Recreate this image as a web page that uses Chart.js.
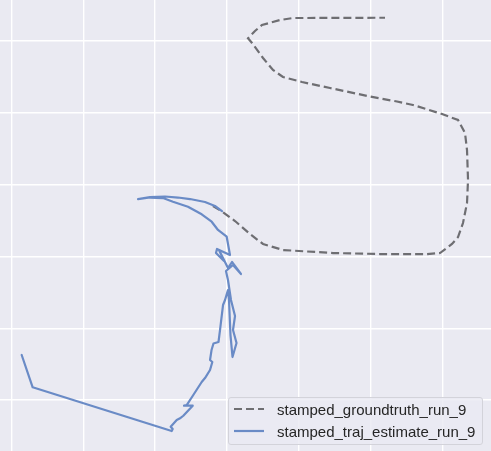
<!DOCTYPE html>
<html><head><meta charset="utf-8">
<script src="https://cdn.jsdelivr.net/npm/chart.js@4.4.1/dist/chart.umd.min.js"></script>
<style>
html,body{margin:0;padding:0;background:#EAEAF2;overflow:hidden}
#wrap{position:relative;width:491px;height:451px}
canvas{display:block}
#legend{position:absolute;left:228px;top:397px;width:253px;height:46px;border:1px solid #d3d3da;border-radius:3px;background:rgba(234,234,242,0.8);font-family:"Liberation Sans",Arial,sans-serif;font-size:15px;color:#262626}
.item{position:absolute;left:0;height:20px;display:flex;align-items:center;white-space:nowrap}
.item svg{margin-left:5px;margin-right:13px}
</style></head>
<body><div id="wrap"><canvas id="c" width="491" height="451"></canvas><div id="legend"></div></div>
<script>
const gtLabel = 'stamped_groundtruth_run_9';
const estLabel = 'stamped_traj_estimate_run_9';

const gtX = [2.806,2.932,3.113,3.322,3.503,3.781,4.478,5.132,5.787,5.968,6.135,6.219,6.288,6.344,6.358,6.344,6.316,6.219,5.996,5.592,5.369,4.993,4.436,4.046,3.781,3.642,3.503,3.350,3.294,3.391,3.489,3.740,3.921,5.202];
const gtY = [2.702,2.625,2.493,2.312,2.173,2.089,2.047,2.033,2.033,2.047,2.173,2.270,2.465,2.744,3.064,3.482,3.719,3.900,3.983,4.109,4.157,4.227,4.345,4.429,4.499,4.596,4.763,4.972,5.038,5.139,5.223,5.292,5.320,5.324];

const estX = [2.932,2.834,2.695,2.486,2.319,2.138,1.929,1.762,1.929,2.110,2.249,2.458,2.649,2.788,2.876,2.997,3.043,2.862,2.848,2.960,2.890,3.015,3.071,3.196,3.085,2.987,3.015,3.057,3.113,3.085,3.134,3.078,3.050,3.029,3.015,2.974,2.946,2.904,2.883,2.813,2.786,2.765,2.797,2.765,2.695,2.649,2.532,2.440,2.403,2.524,2.393,2.347,2.301,2.217,2.245,2.231,0.295,0.142];
const estY = [2.632,2.702,2.758,2.799,2.820,2.834,2.827,2.799,2.820,2.813,2.762,2.692,2.586,2.483,2.368,2.274,2.019,2.103,2.047,1.936,2.089,1.838,1.922,1.755,1.880,1.797,1.671,1.393,1.170,0.975,0.794,0.599,0.905,1.393,1.532,1.393,1.323,0.975,0.808,0.787,0.696,0.557,0.529,0.418,0.306,0.251,0.070,-0.070,-0.079,-0.079,-0.219,-0.255,-0.279,-0.372,-0.404,-0.432,0.177,0.627];

const xTicks = [0,1,2,3,4,5,6];
const yTicks = [0,1,2,3,4,5];
const xLimits = [-0.160, 6.678];
const yLimits = [-0.710, 5.571];

const toPts = (xs, ys) => xs.map((x, i) => ({x: x, y: ys[i]}));

const bgPlugin = {
  id: 'bg',
  beforeDraw(chart) {
    const {ctx, chartArea: a} = chart;
    ctx.save();
    ctx.fillStyle = '#EAEAF2';
    ctx.fillRect(a.left, a.top, a.right - a.left, a.bottom - a.top);
    ctx.restore();
  }
};

const chart = new Chart(document.getElementById('c'), {
  type: 'scatter',
  data: {
    datasets: [
      {label: gtLabel, data: toPts(gtX, gtY), showLine: true, pointRadius: 0,
       borderColor: '#6e6e72', borderWidth: 2.2, borderDash: [8, 4], order: 1, tension: 0},
      {label: estLabel, data: toPts(estX, estY), showLine: true, pointRadius: 0,
       borderColor: '#6a8bc6', borderWidth: 2.2, borderJoinStyle: 'round', borderCapStyle: 'round', order: 0, tension: 0}
    ]
  },
  options: {
    responsive: false, animation: false, devicePixelRatio: 1,
    layout: {padding: 0},
    plugins: {legend: {display: false}, tooltip: {enabled: false}},
    scales: {
      x: {type: 'linear', min: xLimits[0], max: xLimits[1],
          afterBuildTicks: s => { s.ticks = xTicks.map(v => ({value: v})); },
          afterFit: s => { s.height = 0; },
          ticks: {display: false}, border: {display: false},
          grid: {color: '#ffffff', lineWidth: 1.4, drawTicks: false}},
      y: {type: 'linear', min: yLimits[0], max: yLimits[1],
          afterBuildTicks: s => { s.ticks = yTicks.map(v => ({value: v})); },
          afterFit: s => { s.width = 0; },
          ticks: {display: false}, border: {display: false},
          grid: {color: '#ffffff', lineWidth: 1.4, drawTicks: false}}
    }
  },
  plugins: [bgPlugin]
});

// HTML legend built from the chart's datasets
const leg = document.getElementById('legend');
chart.data.datasets.forEach((ds, i) => {
  const div = document.createElement('div');
  div.className = 'item';
  div.style.top = (1 + i * 22) + 'px';
  const dash = ds.borderDash ? `stroke-dasharray="${ds.borderDash.join(',')}"` : '';
  div.innerHTML = `<svg width="30" height="6"><line x1="0" y1="3" x2="30" y2="3" stroke="${ds.borderColor}" stroke-width="2.2" ${dash}/></svg><span>${ds.label}</span>`;
  leg.appendChild(div);
});
</script>
</body></html>
